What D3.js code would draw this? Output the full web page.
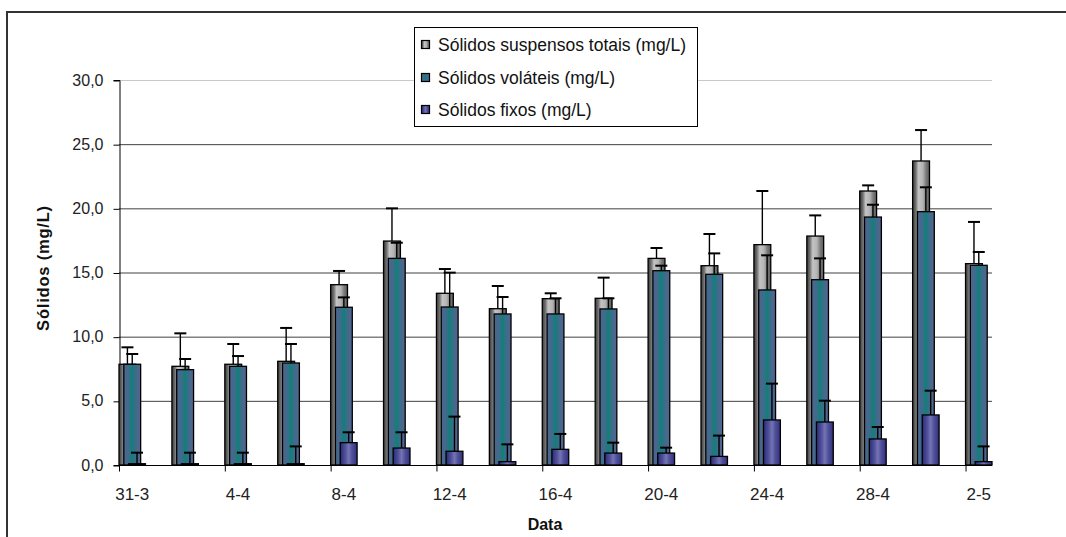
<!DOCTYPE html>
<html><head><meta charset="utf-8">
<script src="https://cdn.jsdelivr.net/npm/d3@7"></script>
<style>body{margin:0;background:#fff}svg{display:block}text{font-family:"Liberation Sans",Arial,sans-serif}</style>
</head><body><svg id="c" width="1066" height="537"></svg>
<script>
const dates = ["31-3","2-4","4-4","6-4","8-4","10-4","12-4","14-4","16-4","18-4","20-4","22-4","24-4","26-4","28-4","30-4","2-5"];
const tickLabels = ["31-3","4-4","8-4","12-4","16-4","20-4","24-4","28-4","2-5"];
const yTicks = [0,5,10,15,20,25,30];
const seriesNames = ["Sólidos suspensos totais (mg/L)","Sólidos voláteis (mg/L)","Sólidos fixos (mg/L)"];
const sst    = [7.85,7.69,7.85,8.08,14.05,17.45,13.38,12.18,12.96,12.99,16.1,15.53,17.17,17.84,21.35,23.69,15.69];
const sstErr = [1.32,2.57,1.58,2.6,1.07,2.55,1.89,1.77,0.42,1.61,0.81,2.47,4.18,1.61,0.44,2.41,3.25];
const ssv    = [7.85,7.43,7.69,7.95,12.29,16.1,12.31,11.77,11.77,12.16,15.14,14.86,13.64,14.44,19.32,19.74,15.56];
const ssvErr = [0.8,0.83,0.8,1.48,0.77,1.22,2.68,1.32,1.22,0.83,0.39,1.63,2.7,1.66,0.96,1.9,1.04];
const ssf    = [0.1,0.1,0.1,0.1,1.74,1.32,1.07,0.26,1.22,0.93,0.93,0.67,3.51,3.35,2.03,3.9,0.26];
const ssfErr = [0.86,0.86,0.86,1.35,0.81,1.23,2.7,1.35,1.2,0.81,0.42,1.62,2.83,1.66,0.93,1.89,1.19];

const svg = d3.select("#c");
const parse = s => { const [d,m] = s.split("-").map(Number); return new Date(2000, m-1, d); };
const x = d3.scaleTime().domain([parse("31-3"), d3.timeDay.offset(parse("2-5"),1)]).range([119, 992]);
const y = d3.scaleLinear().domain([0,30]).range([465, 80]);
const dayW = x(d3.timeDay.offset(parse("31-3"),1)) - x(parse("31-3"));
const loc = d3.formatLocale({decimal:",", thousands:".", grouping:[3], currency:["",""]});
const fmt = loc.format(".1f");

// outer border
svg.append("rect").attr("x",7).attr("y",12).attr("width",1080).attr("height",560)
  .attr("fill","none").attr("stroke","#333").attr("stroke-width",2);

// gradients
const defs = svg.append("defs");
function grad(id, stops){
  const g = defs.append("linearGradient").attr("id",id).attr("x1","0").attr("x2","1").attr("y1","0").attr("y2","0");
  stops.forEach(s => g.append("stop").attr("offset",s[0]).attr("stop-color",s[1]));
}
grad("gGray",[[0,"#3c3c3c"],[0.18,"#6e6e6e"],[0.35,"#c4c4c4"],[0.6,"#b4b4b4"],[0.8,"#7a7a7a"],[1,"#5a5a5a"]]);
grad("gTeal",[[0,"#4d6590"],[0.3,"#3f6b8a"],[0.5,"#0f807a"],[0.7,"#3f6b8a"],[1,"#55648f"]]);
grad("gNavy",[[0,"#2a2a78"],[0.3,"#50509a"],[0.5,"#7474b4"],[0.7,"#50509a"],[1,"#30307e"]]);

// gridlines
svg.append("g").selectAll("line").data(yTicks.filter(t=>t>0)).join("line")
  .attr("x1",119).attr("x2",992).attr("y1",d=>y(d)+0.5).attr("y2",d=>y(d)+0.5)
  .attr("stroke",d=>d===30?"#c8c8c8":"#404040").attr("stroke-width",1);

// y axis
const yAxis = svg.append("g").attr("transform","translate(119.5,0)")
  .call(d3.axisLeft(y).tickValues(yTicks).tickFormat(fmt).tickSize(6).tickPadding(10));
yAxis.select(".domain").attr("stroke","#000");
yAxis.selectAll(".tick line").attr("stroke","#000").attr("transform","translate(0,0.5)");
yAxis.selectAll("text").attr("font-size","16px").attr("fill","#222").attr("font-family","Liberation Sans, Arial, sans-serif");

// x axis
const xAxis = svg.append("g").attr("transform","translate(0,465.5)")
  .call(d3.axisBottom(x).tickValues(tickLabels.map(parse)).tickSize(6).tickFormat(""));
xAxis.select(".domain").attr("stroke","#000").attr("d","M119,0H992");
xAxis.selectAll(".tick line").attr("stroke","#000");
svg.append("g").selectAll("text").data(tickLabels).join("text")
  .attr("x",d=>x(parse(d))+dayW/2).attr("y",500).attr("text-anchor","middle")
  .attr("font-size","17px").attr("fill","#222").text(d=>d);

// bars
const step = 4.8, bw = dayW - 2*step;
const series = [
  {vals:sst, err:sstErr, fill:"url(#gGray)", off:0},
  {vals:ssv, err:ssvErr, fill:"url(#gTeal)", off:step},
  {vals:ssf, err:ssfErr, fill:"url(#gNavy)", off:2*step}
];
series.forEach(s=>{
  const g = svg.append("g");
  g.selectAll("rect").data(dates).join("rect")
    .attr("x",(d,i)=>x(parse(d))+s.off).attr("width",bw)
    .attr("y",(d,i)=>y(s.vals[i])).attr("height",(d,i)=>y(0)-y(s.vals[i]))
    .attr("fill",s.fill).attr("stroke","#000").attr("stroke-width",1.3);
  const cx = (d)=>x(parse(d))+s.off+bw/2;
  g.selectAll("line.e").data(dates).join("line").attr("class","e")
    .attr("x1",cx).attr("x2",cx)
    .attr("y1",(d,i)=>y(s.vals[i])).attr("y2",(d,i)=>y(s.vals[i]+s.err[i]))
    .attr("stroke","#000").attr("stroke-width",1.4);
  g.selectAll("line.c").data(dates).join("line").attr("class","c")
    .attr("x1",d=>cx(d)-6).attr("x2",d=>cx(d)+6)
    .attr("y1",(d,i)=>y(s.vals[i]+s.err[i])).attr("y2",(d,i)=>y(s.vals[i]+s.err[i]))
    .attr("stroke","#000").attr("stroke-width",2);
});

// axis titles
svg.append("text").attr("transform","translate(49,268) rotate(-90)").attr("text-anchor","middle")
  .attr("font-size","16.5px").attr("font-weight","bold").attr("letter-spacing","0.8px").attr("fill","#111").text("Sólidos (mg/L)");
svg.append("text").attr("x",545).attr("y",530).attr("text-anchor","middle")
  .attr("font-size","16px").attr("font-weight","bold").attr("fill","#111").text("Data");

// legend
const lg = svg.append("g");
lg.append("rect").attr("x",414.5).attr("y",27.5).attr("width",283).attr("height",99)
  .attr("fill","#fff").attr("stroke","#000").attr("stroke-width",1);
const fills = ["url(#gGray)","url(#gTeal)","url(#gNavy)"];
const rowsY = [45,78,110];
seriesNames.forEach((n,i)=>{
  lg.append("rect").attr("x",421.5).attr("y",rowsY[i]-4.5).attr("width",8).attr("height",8)
    .attr("fill",fills[i]).attr("stroke","#000").attr("stroke-width",1.2);
  lg.append("text").attr("x",438).attr("y",rowsY[i]+6).attr("font-size","17.5px").attr("fill","#111").text(n);
});
</script></body></html>
